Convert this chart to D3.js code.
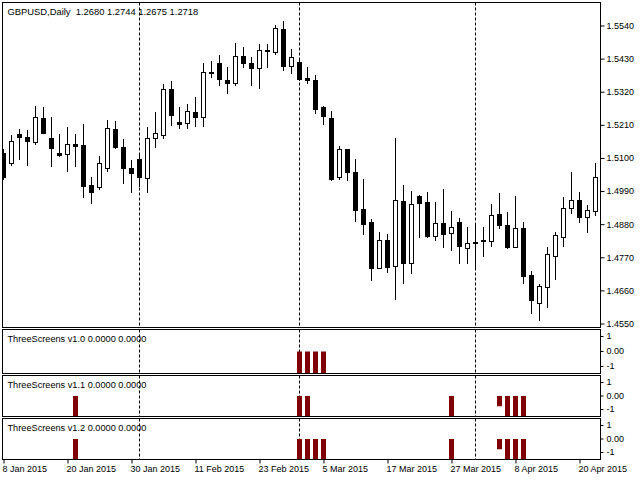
<!DOCTYPE html>
<html><head><meta charset="utf-8">
<script src="https://cdn.jsdelivr.net/npm/d3@7"></script>
<style>html,body{margin:0;padding:0;background:#fff;overflow:hidden}</style>
</head><body><svg id="c" width="640" height="480"></svg>
<script>
// ---- data (GBPUSD daily, 8 Jan 2015 .. 22 Apr 2015, one value per trading day) ----
const opens = [1.5115,1.5084,1.5180,1.5170,1.5154,1.5232,1.5167,1.5116,1.5112,1.5146,
  1.5142,1.5009,1.5004,1.5066,1.5195,1.5136,1.5067,1.5097,1.5032,1.5165,
  1.5177,1.5329,1.5219,1.5215,1.5253,1.5235,1.5387,1.5415,1.5359,1.5348,
  1.5439,1.5416,1.5398,1.5459,1.5453,1.5527,1.5405,1.5420,1.5366,1.5359,
  1.5268,1.5233,1.5038,1.5129,1.5053,1.4930,1.4887,1.4735,1.4827,1.4742,
  1.4957,1.4752,1.4974,1.4954,1.4842,1.4883,1.4850,1.4886,1.4802,1.4822,
  1.4824,1.4825,1.4914,1.4877,1.4805,1.4867,1.4711,1.4619,1.4672,1.4775,
  1.4838,1.4933,1.4960,1.4903,1.4925];
const highs = [1.5130,1.5176,1.5196,1.5193,1.5273,1.5270,1.5237,1.5180,1.5203,1.5180,
  1.5213,1.5038,1.5107,1.5226,1.5224,1.5162,1.5093,1.5115,1.5202,1.5252,
  1.5346,1.5357,1.5268,1.5279,1.5303,1.5414,1.5423,1.5442,1.5403,1.5483,
  1.5468,1.5436,1.5479,1.5479,1.5542,1.5555,1.5461,1.5424,1.5403,1.5376,
  1.5273,1.5256,1.5140,1.5130,1.5095,1.5030,1.4897,1.4854,1.4847,1.5167,
  1.5010,1.4991,1.4977,1.4987,1.4954,1.4997,1.4924,1.4902,1.4872,1.4881,
  1.4872,1.4947,1.4985,1.4920,1.4974,1.4887,1.4725,1.4681,1.4805,1.4855,
  1.4969,1.5054,1.4988,1.4943,1.5084];
const lows = [1.5030,1.5077,1.5097,1.5077,1.5146,1.5183,1.5074,1.5106,1.5058,1.5074,
  1.4971,1.4949,1.4997,1.5058,1.5132,1.5018,1.4988,1.5007,1.4988,1.5137,
  1.5165,1.5209,1.5198,1.5198,1.5206,1.5206,1.5370,1.5341,1.5317,1.5341,
  1.5403,1.5342,1.5333,1.5403,1.5445,1.5392,1.5383,1.5359,1.5348,1.5250,
  1.5213,1.5028,1.5029,1.5027,1.4892,1.4847,1.4695,1.4734,1.4722,1.4631,
  1.4686,1.4719,1.4838,1.4839,1.4827,1.4805,1.4794,1.4752,1.4752,1.4731,
  1.4775,1.4808,1.4868,1.4802,1.4804,1.4684,1.4586,1.4562,1.4604,1.4698,
  1.4807,1.4916,1.4888,1.4855,1.4910];
const closes = [1.5037,1.5155,1.5171,1.5157,1.5235,1.5184,1.5134,1.5110,1.5145,1.5141,
  1.5008,1.4988,1.5082,1.5198,1.5137,1.5068,1.5049,1.5038,1.5166,1.5182,
  1.5329,1.5244,1.5214,1.5256,1.5235,1.5385,1.5381,1.5361,1.5350,1.5439,
  1.5416,1.5400,1.5459,1.5457,1.5531,1.5406,1.5434,1.5362,1.5359,1.5263,
  1.5240,1.5030,1.5129,1.5054,1.4928,1.4882,1.4735,1.4827,1.4739,1.4960,
  1.4752,1.4946,1.4951,1.4841,1.4883,1.4848,1.4870,1.4808,1.4816,1.4819,
  1.4826,1.4909,1.4877,1.4805,1.4867,1.4709,1.4628,1.4675,1.4781,1.4844,
  1.4933,1.4960,1.4905,1.4927,1.5036];

const dateTickLabels = ["8 Jan 2015","20 Jan 2015","30 Jan 2015","11 Feb 2015","23 Feb 2015",
  "5 Mar 2015","17 Mar 2015","27 Mar 2015","8 Apr 2015","20 Apr 2015"];
const dateTickIndex = [0,8,16,24,32,40,48,56,64,72];
const monthStartIndex = [17,37,59];           // period separators (1 Feb, 2 Mar, 1 Apr)
const priceTicks = [1.4550,1.4660,1.4770,1.4880,1.4990,1.5100,1.5210,1.5320,1.5430,1.5540];
const titleText = "GBPUSD,Daily  1.2680 1.2744 1.2675 1.2718";

const indicatorNames = ["ThreeScreens v1.0 0.0000 0.0000",
                        "ThreeScreens v1.1 0.0000 0.0000",
                        "ThreeScreens v1.2 0.0000 0.0000"];
// sparse histogram values: [bar index, value]
const signalsV10 = [[37,-1],[38,-1],[39,-1],[40,-1]];
const signalsV11 = [[9,-1],[37,-1],[38,-1],[56,-1],[62,-0.5],[63,-1],[64,-1],[65,-1]];
const signalsV12 = [[9,-1],[37,-1],[38,-1],[39,-1],[40,-1],[56,-1],[62,-0.5],[63,-1],[64,-1],[65,-1]];
const subScaleTicks = [-1, 0, 1];

// ---- layout ----
const FONT = "Liberation Sans, Arial, sans-serif";
const left = 2.5, right = 600.5;
const mainTop = 2.5, mainBottom = 327.5;
const subs = [
  {top: 329.5, bottom: 373.5, name: indicatorNames[0], data: signalsV10},
  {top: 375.5, bottom: 416.5, name: indicatorNames[1], data: signalsV11},
  {top: 418.5, bottom: 459.5, name: indicatorNames[2], data: signalsV12}
];

const svg = d3.select("#c");
svg.append("rect").attr("width",640).attr("height",480).attr("fill","#fff");

const n = opens.length;
const x = d3.scaleLinear().domain([0, 74]).range([3.5, 595.5]);
const y = d3.scaleLinear().domain([1.4550, 1.5540]).range([323.5, 25.5]);

const bars = d3.range(n).map(i => ({i, o: opens[i], h: highs[i], l: lows[i], c: closes[i]}));

// clip paths
const defs = svg.append("defs");
defs.append("clipPath").attr("id","clipMain").append("rect")
  .attr("x", left+0.5).attr("y", mainTop+0.5).attr("width", right-left-1).attr("height", mainBottom-mainTop-1);
subs.forEach((s,k) => defs.append("clipPath").attr("id","clipSub"+k).append("rect")
  .attr("x", left+0.5).attr("y", s.top+0.5).attr("width", right-left-1).attr("height", s.bottom-s.top-1));

// ---- main panel ----
const main = svg.append("g").attr("clip-path","url(#clipMain)");
main.selectAll("line.sep").data(monthStartIndex).join("line")
  .attr("x1", d => x(d)).attr("x2", d => x(d))
  .attr("y1", mainTop).attr("y2", mainBottom)
  .attr("stroke","#000").attr("stroke-width",1).attr("stroke-dasharray","3,2");

const snap = v => Math.round(v) + 0.5;
const cg = main.selectAll("g.candle").data(bars).join("g");
cg.append("line")
  .attr("x1", d => x(d.i)).attr("x2", d => x(d.i))
  .attr("y1", d => Math.round(y(d.h))).attr("y2", d => Math.round(y(d.l)) + 1)
  .attr("stroke","#000").attr("stroke-width",1);
cg.append("rect")
  .attr("x", d => x(d.i) - 2)
  .attr("width", 4)
  .attr("y", d => snap(y(Math.max(d.o, d.c))))
  .attr("height", d => Math.max(1, snap(y(Math.min(d.o, d.c))) - snap(y(Math.max(d.o, d.c)))))
  .attr("fill", d => d.c > d.o ? "#fff" : "#000")
  .attr("stroke","#000").attr("stroke-width",1);

// frame
svg.append("rect").attr("x",left).attr("y",mainTop).attr("width",right-left).attr("height",mainBottom-mainTop)
  .attr("fill","none").attr("stroke","#000").attr("stroke-width",1);

// price axis
const yAxis = d3.axisRight(y).tickValues(priceTicks).tickFormat(d3.format(".4f")).tickSize(4).tickPadding(2);
const ya = svg.append("g").attr("transform", `translate(${right},0)`).call(yAxis);
ya.select(".domain").remove();
ya.selectAll("text").attr("font-family", FONT).attr("font-size", 9).attr("fill","#000");
ya.selectAll("line").attr("stroke","#000");

svg.append("text").attr("x", 7.5).attr("y", mainTop + 12)
  .attr("font-family", FONT).attr("font-size", 9.4).attr("fill","#000")
  .attr("xml:space","preserve").style("white-space","pre").text(titleText);

// ---- indicator sub-windows ----
subs.forEach((s, k) => {
  const ys = d3.scaleLinear().domain([-1, 1]).range([s.bottom, s.top]);
  const g = svg.append("g").attr("clip-path", `url(#clipSub${k})`);
  g.selectAll("line.sep").data(monthStartIndex).join("line")
    .attr("x1", d => x(d)).attr("x2", d => x(d))
    .attr("y1", s.top).attr("y2", s.bottom)
    .attr("stroke","#000").attr("stroke-width",1).attr("stroke-dasharray","3,2");
  g.selectAll("rect.hist").data(s.data).join("rect")
    .attr("x", d => x(d[0]) - 2.5).attr("width", 5)
    .attr("y", d => ys(Math.max(0, d[1])))
    .attr("height", d => Math.abs(ys(d[1]) - ys(0)))
    .attr("fill", "#800000");
  svg.append("rect").attr("x",left).attr("y",s.top).attr("width",right-left).attr("height",s.bottom-s.top)
    .attr("fill","none").attr("stroke","#000").attr("stroke-width",1);
  const ax = d3.axisRight(ys).tickValues(subScaleTicks)
    .tickFormat(v => v === 0 ? "0.00" : String(v)).tickSize(3).tickPadding(3);
  const ag = svg.append("g").attr("transform", `translate(${right},0)`).call(ax);
  ag.select(".domain").remove();
  ag.selectAll(".tick").attr("transform", v => `translate(0,${ys(v) + (v === 1 ? 7 : v === -1 ? -7 : 0)})`);
  ag.selectAll("text").attr("font-family", FONT).attr("font-size", 9).attr("fill","#000");
  ag.selectAll("line").attr("stroke","#000");
  svg.append("text").attr("x", 7.5).attr("y", s.top + 12.5)
    .attr("font-family", FONT).attr("font-size", 9.2).attr("fill","#000").text(s.name);
});

// ---- time axis ----
const xAxis = d3.axisBottom(x).tickValues(dateTickIndex)
  .tickFormat((d, j) => dateTickLabels[j]).tickSize(4).tickPadding(2);
const xa = svg.append("g").attr("transform", `translate(0,${subs[2].bottom})`).call(xAxis);
xa.select(".domain").remove();
xa.selectAll("text").attr("font-family", FONT).attr("font-size", 9).attr("fill","#000")
  .attr("text-anchor","start").attr("x", -1.5);
xa.selectAll("line").attr("stroke","#000");
</script>
</body></html>
